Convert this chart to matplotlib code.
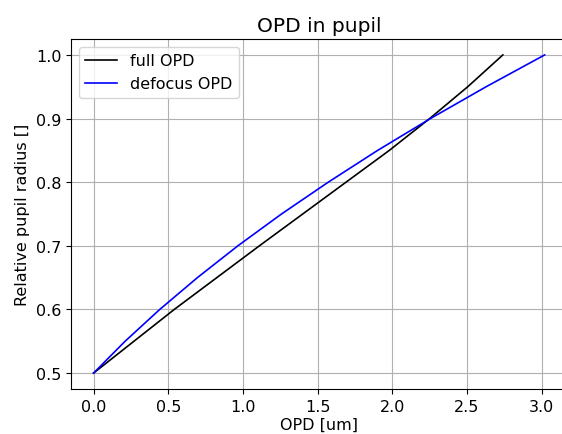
import matplotlib
matplotlib.use('Agg')
import matplotlib.pyplot as plt

# relative pupil radius (y) and OPD values (x)
radius = [0.5, 0.55, 0.6, 0.65, 0.7, 0.75, 0.8, 0.85, 0.9, 0.95, 1.0]
full_opd = [0.0, 0.27, 0.54, 0.825, 1.11, 1.40, 1.69, 1.98, 2.25, 2.505, 2.74]
defocus_opd = [0.0, 0.211, 0.443, 0.695, 0.966, 1.258, 1.571, 1.902, 2.255, 2.628, 3.02]

fig = plt.figure(figsize=(5.62, 4.35), dpi=100)
ax = fig.add_axes([0.1263, 0.1034, 0.883, 0.8046])

ax.plot(full_opd, radius, color='black', linewidth=1.2, label='full OPD')
ax.plot(defocus_opd, radius, color='blue', linewidth=1.2, label='defocus OPD')

ax.set_title('OPD in pupil', fontsize=14.5)
ax.set_xlabel('OPD [um]', fontsize=11.5, labelpad=2)
ax.set_ylabel('Relative pupil radius []', fontsize=11.5)
ax.set_xticks([0.0, 0.5, 1.0, 1.5, 2.0, 2.5, 3.0])
ax.set_yticks([0.5, 0.6, 0.7, 0.8, 0.9, 1.0])
ax.tick_params(labelsize=11.5)
ax.grid(True, color='#b0b0b0', linewidth=0.8)
ax.legend(loc='upper left', fontsize=11.5)

fig.savefig('out.png', dpi=100)
